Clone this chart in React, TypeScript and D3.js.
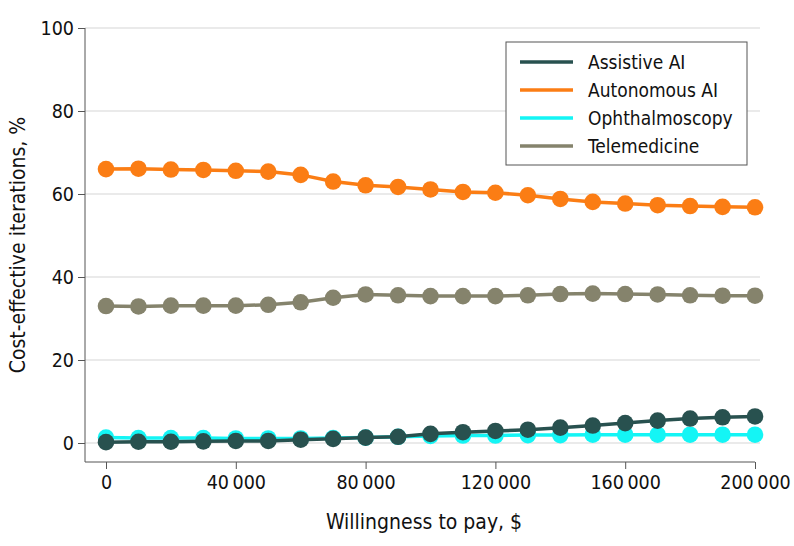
import { useEffect, useRef } from 'react'
import * as d3 from 'd3'

const W = 794, H = 546
const M = { top: 28, right: 39, bottom: 84, left: 85 }

const wtp = [0, 10000, 20000, 30000, 40000, 50000, 60000, 70000, 80000, 90000, 100000,
  110000, 120000, 130000, 140000, 150000, 160000, 170000, 180000, 190000, 200000]

const assistive = [0.2, 0.3, 0.3, 0.4, 0.5, 0.5, 0.8, 1.0, 1.3, 1.5, 2.2, 2.6, 2.9, 3.2, 3.7, 4.2, 4.8, 5.4, 5.9, 6.2, 6.4]
const autonomous = [66.0, 66.1, 65.9, 65.8, 65.6, 65.4, 64.6, 63.0, 62.1, 61.7, 61.1, 60.5, 60.3, 59.7, 58.8, 58.1, 57.7, 57.3, 57.1, 56.9, 56.8]
const ophthalmoscopy = [1.3, 1.2, 1.2, 1.2, 1.1, 1.1, 1.1, 1.2, 1.3, 1.5, 1.7, 1.8, 1.8, 1.9, 1.9, 2.0, 2.0, 2.0, 2.0, 2.0, 2.0]
const telemedicine = [33.0, 32.9, 33.1, 33.1, 33.1, 33.3, 33.9, 35.0, 35.8, 35.6, 35.4, 35.4, 35.4, 35.6, 35.9, 36.0, 35.9, 35.8, 35.6, 35.5, 35.5]

const yTicks = [0, 20, 40, 60, 80, 100]
const xTicks = [0, 40000, 80000, 120000, 160000, 200000]

const legendItems = [
  { label: 'Assistive AI', color: '#28514f' },
  { label: 'Autonomous AI', color: '#fb7d14' },
  { label: 'Ophthalmoscopy', color: '#14f5f5' },
  { label: 'Telemedicine', color: '#85836c' },
]

// drawing order: cyan under dark teal
const series = [
  { values: ophthalmoscopy, color: '#14f5f5' },
  { values: telemedicine, color: '#85836c' },
  { values: autonomous, color: '#fb7d14' },
  { values: assistive, color: '#28514f' },
]

const FONT = '"Liberation Sans Narrow", "DejaVu Sans Condensed", Arial, sans-serif'

export default function App() {
  const svgRef = useRef<SVGSVGElement>(null)

  useEffect(() => {
    const svg = d3.select(svgRef.current!)
    svg.selectAll('*').remove()

    const x = d3.scaleLinear().domain([0, 200000]).range([106, 755])
    const y = d3.scaleLinear().domain([0, 100]).range([443, 28])
    const axisY = 462

    const fmt = (d: number) => d3.format(',')(d).replace(/,/g, '\u2009')

    // gridlines
    svg.append('g').selectAll('line').data(yTicks).join('line')
      .attr('x1', M.left).attr('x2', 760)
      .attr('y1', d => y(d)).attr('y2', d => y(d))
      .attr('stroke', '#e3e3e3').attr('stroke-width', 1.5)

    // y axis
    const yAx = svg.append('g').attr('transform', `translate(${M.left},0)`)
      .call(d3.axisLeft(y).tickValues(yTicks).tickSize(7).tickPadding(4).tickSizeOuter(0))
    yAx.select('.domain').attr('stroke', '#555').attr('d', `M0,${y(100)}V${axisY}`)
    yAx.selectAll('.tick line').attr('stroke', '#555')
    yAx.selectAll<SVGTextElement, unknown>('.tick text')
      .attr('font-size', 19.5).attr('font-family', FONT).attr('fill', '#111')

    // x axis
    const xAx = svg.append('g').attr('transform', `translate(0,${axisY})`)
      .call(d3.axisBottom(x).tickValues(xTicks).tickSize(7).tickPadding(6).tickSizeOuter(0)
        .tickFormat(d => fmt(d as number)))
    xAx.select('.domain').attr('stroke', '#555').attr('d', `M${M.left},0H${x(200000)}`)
    xAx.selectAll('.tick line').attr('stroke', '#555')
    xAx.selectAll<SVGTextElement, unknown>('.tick text')
      .attr('font-size', 19.5).attr('font-family', FONT).attr('fill', '#111')

    // axis titles
    svg.append('text')
      .attr('transform', `translate(19,${(y(100) + axisY) / 2}) rotate(-90)`)
      .attr('text-anchor', 'middle').attr('dominant-baseline', 'middle')
      .attr('font-size', 21).attr('font-family', FONT).attr('fill', '#111')
      .text('Cost-effective iterations, %')
    svg.append('text')
      .attr('x', (M.left + 755) / 2 + 4).attr('y', 529)
      .attr('text-anchor', 'middle')
      .attr('font-size', 21).attr('font-family', FONT).attr('fill', '#111')
      .text('Willingness to pay, $')

    // lines + markers
    const line = d3.line<number>().x((_, i) => x(wtp[i])).y(v => y(v))
    series.forEach(s => {
      const g = svg.append('g')
      g.append('path').datum(s.values)
        .attr('fill', 'none').attr('stroke', s.color).attr('stroke-width', 3.5)
        .attr('d', line)
      g.selectAll('circle').data(s.values).join('circle')
        .attr('cx', (_, i) => x(wtp[i])).attr('cy', v => y(v)).attr('r', 8.3)
        .attr('fill', s.color)
    })

    // legend
    const lg = svg.append('g').attr('transform', 'translate(506,42)')
    lg.append('rect').attr('width', 241).attr('height', 123)
      .attr('fill', '#fff').attr('stroke', '#555').attr('stroke-width', 1)
    legendItems.forEach((it, i) => {
      const cy = 20 + i * 28
      lg.append('line').attr('x1', 14).attr('x2', 67).attr('y1', cy).attr('y2', cy)
        .attr('stroke', it.color).attr('stroke-width', 3.5)
      lg.append('text').attr('x', 82).attr('y', cy).attr('dominant-baseline', 'central')
        .attr('font-size', 19).attr('font-family', FONT).attr('fill', '#111')
        .text(it.label)
    })
  }, [])

  return <svg ref={svgRef} width={W} height={H} viewBox={`0 0 ${W} ${H}`}
    style={{ display: 'block', position: 'absolute', left: 0, top: 0, background: '#fff' }} />
}
